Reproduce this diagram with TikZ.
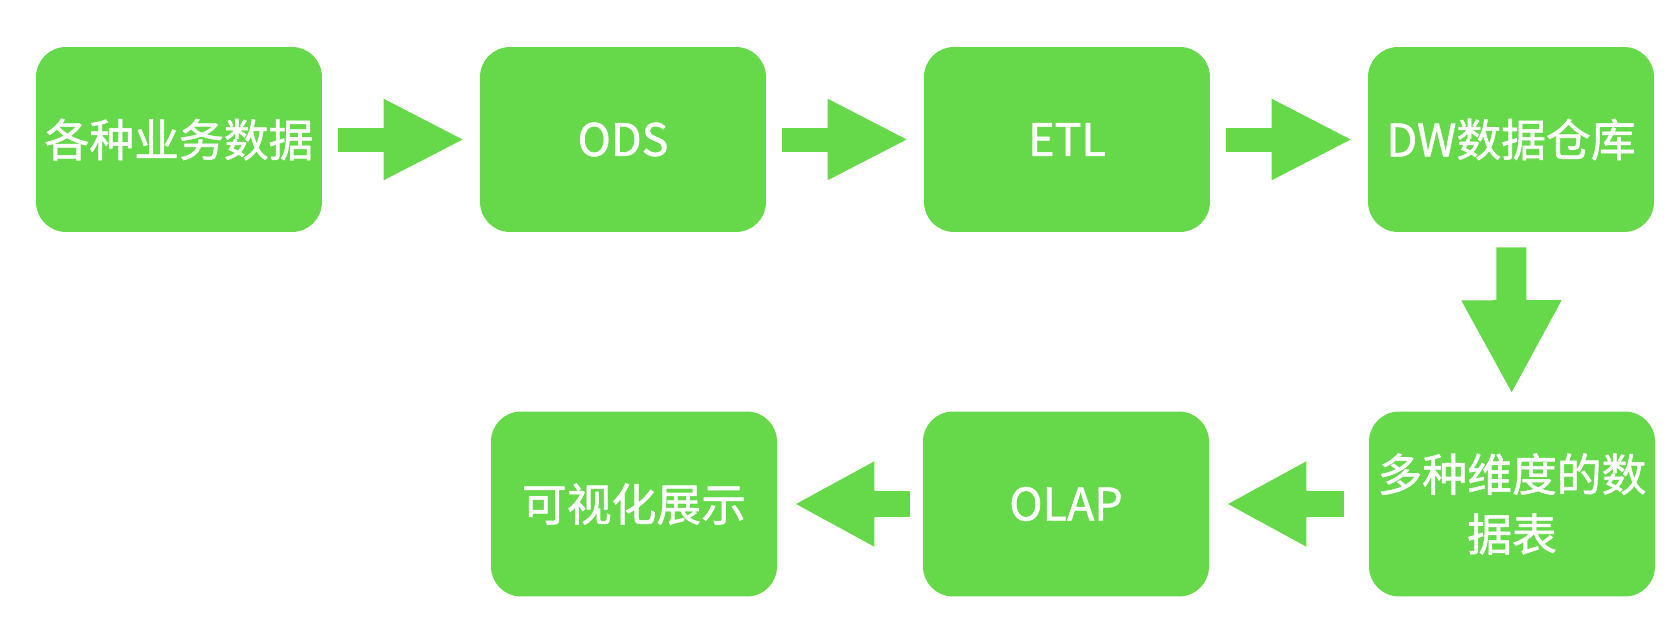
\documentclass[tikz,border=0pt]{standalone}
\usepackage{fontspec}
\setmainfont{Noto Sans CJK SC}[FakeBold=1.2]
\usetikzlibrary{arrows.meta}
\definecolor{leaf}{HTML}{66D94A}

\tikzset{
	every box/.style={fill=leaf, rounded corners=0.6cm, minimum width=5.72cm, minimum height=3.7cm,
		text=white, align=center, inner sep=0pt, font=\fontsize{25.5pt}{34pt}\selectfont},
	flow/.style={draw=leaf, line width=0.48cm, -{Triangle[length=1.62cm, width=1.5cm]},
		shorten <=0.32cm, shorten >=0.3cm},
	flow down/.style={draw=leaf, line width=0.6cm, -{Triangle[length=1.88cm, width=1.86cm]},
		shorten <=0.3cm, shorten >=0.34cm},
	flow back/.style={draw=leaf, line width=0.52cm, -{Triangle[length=1.6cm, width=1.58cm]},
		shorten >=0.34cm}
}

\begin{document}
\begin{tikzpicture}[x=0.02cm, y=-0.02cm]
	\useasboundingbox (0,0) rectangle (1680,629);
	
	\foreach \t [count=\i] in {各种业务数据, ODS, ETL, DW数据仓库}
	\node [every box/.try] (top-\i) at (179+444*\i-444,139.5) {\t};
	
	\foreach \t/\x [count=\i] in {可视化展示/634, OLAP/1066, 多种维度的数\\据表/1512}
	\node [every box/.try] (bottom-\i) at (\x,504) {\t};
	
	\foreach \i/\j in {1/2, 2/3, 3/4}
	\draw [flow] (top-\i) -- (top-\j);
	
	\draw [flow down] (top-4) -- (bottom-3);
	
	\foreach \i/\j/\s in {3/2/0.5cm, 2/1/0.26cm}
	\draw [flow back, shorten <=\s] (bottom-\i) -- (bottom-\j);
\end{tikzpicture}
\end{document}
